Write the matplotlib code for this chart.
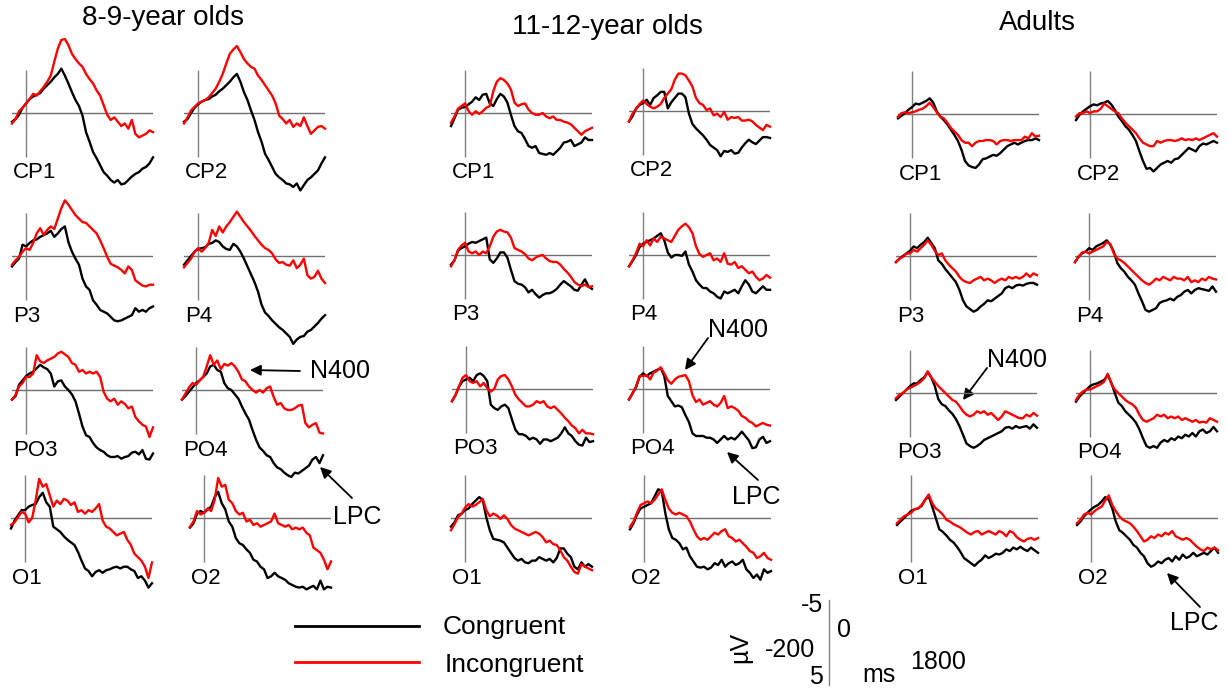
import numpy as np
import matplotlib
matplotlib.use('agg')
import matplotlib.pyplot as plt

plt.rcParams['font.family'] = ['Liberation Sans', 'DejaVu Sans']

# ERP data in microvolts, -200..1800 ms in 50 ms steps (negative plotted up)
# 8-9-year olds
g1_cp1_con = [1.0,0.7,0.2,-0.6,-1.1,-1.6,-1.9,-2.1,-2.3,-2.8,-3.2,-3.6,-4.1,-4.5,-5.1,-4.3,-3.4,-2.4,-1.5,-0.8,0.3,2.2,3.3,4.5,5.2,6.0,6.8,7.2,7.7,8.0,7.7,8.2,8.1,7.7,7.3,7.0,6.8,6.4,6.2,5.8,5.1]
g1_cp1_inc = [1.2,0.7,-0.2,-0.6,-1.1,-1.6,-2.2,-2.0,-2.5,-3.0,-3.6,-4.3,-5.9,-7.4,-8.4,-8.5,-7.8,-6.8,-6.2,-5.7,-5.3,-4.5,-3.9,-3.4,-2.6,-2.0,-0.9,0.2,0.8,0.5,1.0,1.5,1.2,1.8,0.8,2.4,2.8,2.6,2.4,2.0,2.2]
g1_cp2_con = [1.0,0.7,0.0,-0.6,-1.0,-1.3,-1.5,-1.6,-1.9,-2.1,-2.5,-2.8,-3.2,-3.6,-4.1,-4.5,-3.6,-2.4,-1.5,-0.3,0.8,2.2,3.3,4.7,5.4,6.2,7.0,7.4,7.7,8.1,8.2,8.5,8.1,8.9,8.3,7.7,7.4,7.0,6.6,5.8,5.1]
g1_cp2_inc = [1.2,0.5,-0.3,-0.7,-1.1,-1.3,-1.5,-1.8,-2.3,-2.8,-3.6,-4.5,-5.7,-6.8,-7.3,-7.7,-7.0,-6.2,-5.7,-5.3,-5.1,-4.3,-3.8,-3.2,-2.6,-2.0,-1.1,0.3,0.7,1.2,0.8,1.6,1.2,1.5,0.5,1.5,2.4,2.0,1.6,1.5,1.8]
g1_p3_con = [1.2,0.7,0.3,-1.3,-1.1,-1.5,-1.8,-1.9,-2.2,-2.4,-2.6,-2.9,-2.2,-2.6,-3.1,-3.4,-1.6,-0.5,0.3,1.0,2.6,3.5,3.9,5.1,5.6,6.2,6.4,6.6,7.0,7.4,7.5,7.4,7.2,7.0,6.8,6.0,6.4,6.2,6.4,6.0,5.8]
g1_p3_inc = [1.0,0.5,0.1,-0.5,-0.9,-0.7,-1.5,-2.6,-3.2,-2.4,-3.0,-3.4,-3.1,-4.3,-5.5,-6.4,-5.9,-5.3,-4.7,-4.3,-3.9,-3.8,-3.4,-3.0,-2.6,-1.8,-0.9,0.1,0.9,1.1,1.3,1.6,2.0,1.2,1.6,2.8,3.1,3.4,3.5,3.3,3.3]
g1_p4_con = [1.0,0.5,0.0,-0.5,-0.8,-0.9,-1.0,-1.4,-1.5,-1.8,-1.6,-1.1,-0.8,-0.7,-1.4,-1.1,-0.5,0.3,1.2,2.1,3.0,4.1,5.6,6.5,6.9,7.4,7.8,8.2,8.5,8.9,9.3,10.1,9.6,9.3,9.2,8.7,8.5,8.1,7.7,7.2,6.8]
g1_p4_inc = [1.3,0.8,0.3,-0.5,-0.9,-0.5,-0.9,-1.5,-3.0,-2.3,-3.4,-2.7,-3.4,-3.9,-4.5,-5.1,-4.5,-3.9,-3.4,-2.9,-2.3,-1.8,-1.3,-0.9,-0.7,-0.3,0.4,0.8,0.7,1.0,1.1,0.5,1.4,1.0,0.3,2.2,2.6,2.4,1.7,2.6,3.1]
g1_po3_con = [1.1,0.7,-0.6,-1.1,-1.6,-1.9,-2.1,-2.5,-2.9,-2.6,-2.4,-1.9,-0.4,-1.0,-1.1,-0.4,0.0,0.5,1.3,2.7,4.2,5.2,5.4,6.1,6.6,6.9,7.1,7.5,7.7,7.7,7.6,7.9,7.7,7.6,7.2,7.1,7.4,6.9,7.9,8.0,7.3]
g1_po3_inc = [1.1,0.6,-0.4,-0.8,-1.5,-1.5,-1.9,-4.0,-3.3,-3.1,-3.4,-3.6,-3.8,-4.2,-4.4,-4.1,-3.8,-3.1,-2.9,-2.1,-2.3,-1.9,-2.1,-1.9,-2.1,-1.5,0.2,1.0,1.3,1.0,1.7,1.3,1.6,2.1,1.9,3.1,3.6,4.0,4.2,5.4,4.3]
g1_po4_con = [1.1,0.7,0.2,-0.3,-0.8,-1.1,-1.5,-1.9,-2.7,-2.9,-2.3,-2.1,-0.8,-0.2,0.0,0.5,1.0,1.9,2.7,3.4,4.6,5.7,6.6,7.0,7.5,7.7,8.4,8.9,9.1,9.5,9.8,10.0,9.5,9.6,9.3,9.0,8.7,8.0,7.7,8.4,7.5]
g1_po4_inc = [1.1,0.4,-0.3,-0.8,-0.6,-1.1,-1.5,-2.7,-4.0,-2.9,-3.4,-2.4,-3.0,-2.8,-3.1,-2.7,-2.1,-1.2,-1.0,-0.4,0.0,0.3,0.0,0.3,-0.2,-0.4,0.8,1.7,1.5,2.1,2.3,2.3,2.1,1.8,1.7,3.8,4.3,4.0,3.8,4.9,5.0]
g1_o1_con = [1.2,0.3,-0.3,-0.9,-0.9,-1.3,-1.5,-1.6,-2.4,-2.9,-1.8,-1.3,1.0,1.3,1.6,2.1,2.5,2.8,3.1,3.9,4.9,5.8,6.1,6.7,6.2,6.0,6.3,6.0,5.9,5.7,5.6,5.8,5.6,5.6,5.9,6.1,6.9,6.7,7.2,8.0,7.5]
g1_o1_inc = [0.8,0.5,-0.1,-0.7,-0.5,0.5,0.0,-2.0,-4.5,-3.6,-3.9,-2.6,-1.3,-2.0,-1.6,-2.2,-2.0,-1.5,-1.8,-0.7,-0.9,-0.5,-0.9,-0.7,-1.1,-1.6,0.3,1.0,1.2,1.6,2.0,1.8,1.6,2.5,3.1,4.1,4.5,4.9,5.6,6.9,5.1]
g1_o2_con = [1.1,0.6,-0.5,-0.8,-0.6,-1.0,-1.3,-2.4,-3.0,-1.7,-1.0,0.4,1.0,2.3,2.9,3.1,3.6,4.0,4.8,5.0,5.6,5.9,6.9,6.7,6.3,6.7,6.9,7.1,7.5,7.7,7.9,8.0,7.9,8.2,8.0,7.8,8.2,7.2,8.2,7.9,8.0]
g1_o2_inc = [1.0,0.4,-0.8,-0.4,-0.6,-1.1,-0.8,-2.1,-4.6,-3.6,-3.8,-2.1,-1.7,-0.8,-0.4,-0.6,0.4,0.2,0.8,0.6,1.0,0.8,0.6,0.4,-0.5,0.6,0.8,1.0,0.8,1.3,1.1,1.3,1.1,1.7,2.0,3.4,3.7,4.0,4.8,5.9,5.0]

# 11-12-year olds
g2_cp1_con = [1.5,0.6,-0.4,-0.6,-0.7,-1.0,-1.3,-1.8,-1.5,-2.1,-2.2,-1.1,-0.8,-1.6,-2.2,-1.9,-1.2,0.2,1.5,2.1,2.3,3.0,3.8,4.0,3.8,4.6,4.7,4.8,4.6,4.8,4.4,4.0,3.4,3.3,3.1,3.8,3.6,3.4,2.8,3.1,3.1]
g2_cp1_inc = [1.1,0.4,-0.5,-0.8,-1.1,-0.2,0.2,-0.2,0.1,-0.2,-0.6,-0.8,-2.5,-3.6,-4.0,-3.8,-3.4,-2.7,-1.2,-0.8,-1.0,-1.1,-0.4,0.0,0.2,0.2,0.0,0.4,0.6,0.4,0.8,0.8,1.0,1.1,1.3,1.7,2.1,2.5,2.1,1.9,1.7]
g2_cp2_con = [1.2,0.6,-0.3,-0.7,-0.9,-1.3,-0.7,-1.5,-1.8,-2.2,-2.2,-0.3,-1.0,-1.5,-2.0,-2.0,-1.6,0.3,1.5,2.0,2.4,2.8,3.3,3.9,4.2,4.5,5.2,4.6,4.7,4.5,4.9,4.8,4.2,3.7,3.3,3.6,3.8,3.4,3.0,3.0,3.1]
g2_cp2_inc = [1.2,0.3,-0.2,-0.8,-1.2,-0.8,-0.5,-0.3,-0.5,-0.8,-1.5,-2.0,-2.5,-3.6,-4.3,-4.3,-4.1,-3.5,-2.8,-1.5,-0.9,-0.7,-0.1,-0.3,0.5,0.3,0.7,0.1,1.0,0.7,0.8,0.7,1.1,1.1,1.0,1.2,1.6,1.9,2.2,1.6,1.8]
g2_p3_con = [1.1,0.6,-0.5,-0.8,-1.0,-1.3,-1.5,-1.4,-1.6,-1.8,-2.0,0.5,0.9,0.4,-0.3,-0.3,0.3,1.7,3.0,3.3,3.4,3.7,4.3,4.0,4.5,4.9,4.6,4.4,4.4,4.2,3.9,3.4,3.0,3.3,3.6,4.0,4.1,3.4,2.8,3.6,3.9]
g2_p3_inc = [1.3,0.6,-0.6,-1.1,-1.4,-0.4,-0.2,-0.4,0.0,-0.4,-0.2,-1.0,-2.1,-2.7,-2.9,-2.7,-2.6,-2.0,-0.8,-0.6,-0.4,-0.1,0.4,0.6,0.3,0.1,0.0,0.4,0.7,0.8,0.8,1.1,1.6,2.0,2.5,3.1,3.4,3.6,3.4,3.7,3.6]
g2_p4_con = [1.3,0.7,0.0,-0.9,-1.3,-1.5,-1.7,-1.9,-2.2,-2.5,-1.7,-0.3,0.3,0.0,0.0,0.1,-0.4,1.1,1.9,2.9,3.4,3.8,3.8,4.2,4.4,4.8,5.0,4.2,4.4,4.2,4.0,4.4,3.6,2.9,3.4,4.2,4.4,4.0,3.6,4.0,4.0]
g2_p4_inc = [1.3,0.6,-0.2,-1.3,-1.0,-1.7,-1.1,-1.9,-1.5,-2.1,-1.9,-1.7,-1.5,-2.2,-2.9,-3.3,-3.6,-3.2,-2.5,-1.0,-0.1,0.2,0.0,-0.2,0.6,0.4,0.8,-0.2,1.0,1.1,0.8,1.5,1.3,1.7,2.1,1.9,2.5,2.9,2.7,2.3,2.6]
g2_po3_con = [1.4,0.7,-0.3,-0.9,-1.1,-1.3,-0.9,-1.6,-1.8,-1.5,-0.9,1.8,2.2,2.4,2.0,1.8,2.2,3.5,4.7,5.2,5.2,5.4,5.8,5.6,5.8,6.3,5.8,5.8,6.0,5.8,5.6,5.1,4.4,5.1,5.4,6.0,6.4,6.5,5.6,6.1,6.0]
g2_po3_inc = [1.4,0.7,-0.3,-1.3,-1.6,-0.9,-0.7,-0.9,-0.3,-0.7,-0.1,0.3,0.0,-1.1,-1.5,-1.6,-1.1,-0.3,0.7,1.2,1.6,2.0,2.0,1.8,1.4,1.6,1.4,2.0,2.2,2.0,2.4,2.8,3.3,3.7,4.2,4.5,5.1,4.7,5.1,5.1,5.2]
g2_po4_con = [1.2,0.5,-0.2,-1.4,-1.8,-1.5,-1.8,-2.0,-2.2,-2.4,-1.5,0.8,1.4,2.0,1.9,2.1,3.0,3.8,5.1,5.4,5.4,5.4,5.6,5.6,5.8,6.2,5.8,5.4,5.8,5.6,5.8,5.4,4.9,5.4,5.9,6.8,6.7,5.8,5.5,6.2,6.0]
g2_po4_inc = [1.2,0.5,-0.3,-1.5,-1.5,-1.6,-1.1,-1.9,-2.1,-2.5,-1.8,-1.0,-0.6,-1.1,-1.4,-1.5,-1.6,-0.9,0.7,1.5,1.2,1.8,1.6,1.4,1.8,2.0,1.6,0.8,2.2,2.0,2.2,2.5,3.1,3.3,3.7,3.9,4.3,4.1,3.9,4.1,4.2]
g2_o1_con = [1.0,0.5,-0.3,-0.5,-0.9,-1.1,-1.6,-2.0,-2.4,-2.1,-0.1,1.4,2.4,2.5,2.6,2.8,3.4,4.0,4.6,4.9,4.7,5.1,5.2,4.9,4.9,4.5,4.7,4.9,4.7,5.1,4.6,3.5,3.5,4.1,4.5,5.6,5.9,5.1,5.6,5.3,5.6]
g2_o1_inc = [1.4,0.7,-0.1,-0.5,-1.2,-1.6,-1.3,-1.5,-1.8,-2.2,-0.9,-0.2,-0.5,-0.3,0.1,-0.3,0.1,0.8,1.2,1.4,1.6,1.8,2.0,1.8,1.6,1.8,2.2,2.8,2.6,3.0,3.1,3.7,4.5,4.9,5.6,6.2,6.4,5.3,5.6,5.8,6.0]
g2_o2_con = [1.3,0.6,-0.4,-1.1,-1.3,-1.5,-1.7,-2.5,-3.3,-3.1,-0.6,1.3,2.3,2.5,2.9,3.6,3.4,4.4,5.0,5.6,5.7,5.6,5.9,5.7,5.2,5.4,4.8,5.6,5.2,5.0,5.4,5.2,4.8,5.9,6.3,6.9,6.5,7.1,5.9,6.3,6.1]
g2_o2_inc = [1.0,0.4,-0.6,-1.5,-1.7,-1.9,-1.7,-2.1,-2.7,-3.3,-2.1,-1.1,-0.6,-0.4,-0.6,-0.4,-0.2,0.4,1.3,2.1,2.5,2.3,2.5,2.1,1.7,1.9,1.5,1.3,2.1,2.3,2.7,2.5,2.9,3.3,3.8,4.0,4.6,4.4,4.0,4.6,4.8]

# Adults
g3_cp1_con = [0.5,0.2,-0.1,-0.5,-0.8,-1.2,-1.1,-1.3,-1.5,-1.8,-1.3,-0.3,0.3,0.7,1.2,1.8,2.4,3.1,4.1,5.4,5.9,6.1,6.2,5.8,5.2,5.1,4.9,4.7,4.8,4.5,4.1,3.7,3.5,3.3,3.5,3.3,3.1,3.0,3.0,2.8,3.0]
g3_cp1_inc = [0.3,-0.1,-0.2,-0.1,-0.2,-0.3,-0.5,-0.6,-0.9,-1.3,-0.8,-0.2,0.3,0.5,1.0,1.6,2.0,2.4,3.0,3.3,3.3,3.7,3.3,3.1,3.1,3.0,3.0,3.1,3.5,3.1,3.0,3.0,3.1,3.0,3.0,3.0,2.6,2.8,2.2,2.6,2.5]
g3_cp2_con = [0.7,0.1,-0.3,-0.6,-0.9,-1.1,-1.0,-1.2,-1.3,-1.5,-1.1,-0.5,0.3,0.8,1.4,1.8,2.4,3.1,4.3,5.4,6.3,6.2,6.6,6.2,5.8,5.6,5.4,5.6,5.2,5.1,4.7,4.3,3.9,4.1,4.3,3.7,3.4,3.5,3.3,3.1,3.3]
g3_cp2_inc = [0.3,-0.1,-0.1,-0.3,-0.1,-0.3,-0.3,-0.6,-1.2,-0.9,-0.6,-0.3,-0.1,0.5,1.0,1.4,1.8,2.2,2.8,3.3,3.5,3.7,3.7,3.1,3.3,3.1,3.0,3.0,3.1,3.0,2.8,3.0,2.9,3.0,2.8,3.0,2.8,2.6,2.4,2.2,2.6]
g3_p3_con = [0.7,0.3,0.0,-0.3,-0.6,-1.1,-0.9,-1.3,-1.6,-2.1,-1.5,-0.9,0.5,0.9,1.5,2.0,2.5,3.0,3.9,5.1,5.8,6.1,6.4,6.2,5.8,5.5,5.1,5.2,4.9,4.6,4.3,3.7,3.5,3.7,3.4,3.3,3.4,3.2,3.1,3.1,3.3]
g3_p3_inc = [0.7,0.3,0.1,-0.3,-0.3,-0.7,-0.5,-0.9,-1.3,-1.8,-1.3,-0.6,-0.1,-0.3,0.5,1.0,1.4,1.8,2.4,2.8,3.0,3.1,2.8,2.6,2.4,2.8,2.6,2.8,3.1,2.8,2.6,2.8,2.4,2.6,2.4,2.6,2.4,2.0,2.4,2.0,2.2]
g3_p4_con = [0.7,0.1,-0.3,-0.5,-0.9,-0.7,-1.1,-1.3,-1.5,-1.8,-1.3,-0.5,0.8,1.4,1.8,2.4,2.8,3.3,4.3,5.2,6.2,6.4,6.2,6.0,5.4,5.2,5.1,4.9,5.1,4.7,4.5,4.1,3.9,4.3,3.9,3.7,3.8,3.9,4.0,3.5,4.1]
g3_p4_inc = [0.7,0.1,-0.4,-0.5,-0.3,-0.5,-0.7,-0.9,-1.1,-1.6,-1.4,-0.3,0.3,0.5,0.8,1.2,1.6,2.0,2.4,2.8,3.1,3.3,3.0,2.6,2.8,2.4,2.6,2.8,2.4,2.6,2.6,2.8,2.4,3.0,2.8,3.0,2.6,2.8,2.4,2.6,2.7]
g3_po3_con = [0.8,0.4,0.0,-0.4,-0.8,-1.1,-1.1,-1.5,-1.8,-2.4,-1.8,-0.8,0.7,1.3,1.5,2.0,2.4,3.0,3.8,4.8,5.8,6.1,6.3,6.1,5.8,5.4,5.2,5.0,4.8,4.6,4.4,4.0,3.9,4.1,3.8,4.0,3.9,3.8,4.1,3.6,4.0]
g3_po3_inc = [0.6,0.2,0.0,-0.4,-0.6,-0.8,-1.0,-1.3,-1.7,-2.5,-1.8,-1.3,-0.8,-0.4,0.0,0.4,0.8,1.0,1.5,2.1,2.5,2.7,2.5,2.1,2.3,2.1,2.5,2.3,2.7,3.1,2.7,2.1,2.3,2.5,2.7,2.9,2.9,2.5,2.7,2.3,2.6]
g3_po4_con = [1.0,0.4,0.0,-0.4,-0.8,-1.0,-1.1,-1.3,-1.5,-2.1,-1.2,0.0,1.1,1.5,2.1,2.5,2.9,3.4,4.2,5.2,6.1,6.3,6.1,6.3,5.7,5.4,5.6,5.2,5.4,5.0,5.2,4.8,5.0,4.6,5.0,4.4,4.2,4.6,4.4,3.9,4.4]
g3_po4_inc = [0.8,0.2,-0.2,-0.4,-0.4,-0.6,-0.8,-1.0,-1.3,-2.2,-1.1,-0.4,0.0,0.4,0.8,1.1,1.3,1.7,2.5,3.1,3.3,3.1,2.9,2.5,2.7,2.5,2.9,2.7,2.9,2.7,3.1,2.9,3.1,3.3,3.1,3.4,3.3,3.4,2.9,3.1,3.3]
g3_o1_con = [0.8,0.4,0.0,-0.4,-0.8,-1.0,-1.1,-1.4,-2.1,-2.5,-1.3,0.0,1.3,1.6,2.0,2.5,2.8,3.3,3.9,4.6,4.9,5.2,5.5,5.1,4.8,4.3,4.6,4.4,4.1,4.2,4.0,3.6,3.8,3.4,3.6,3.3,3.6,3.8,3.4,3.7,4.0]
g3_o1_inc = [0.6,0.2,-0.2,-0.4,-0.6,-1.0,-1.1,-1.5,-2.1,-2.7,-1.7,-1.1,-0.8,-0.4,0.2,0.4,0.7,0.9,1.1,1.4,1.7,1.9,1.6,1.5,1.9,1.7,1.5,1.7,1.9,1.5,1.7,2.1,1.5,1.7,2.2,2.5,2.7,2.4,2.3,2.5,2.3]
g3_o2_con = [0.8,0.4,-0.2,-0.6,-1.0,-1.3,-1.5,-1.9,-2.4,-2.1,-1.1,0.4,1.4,1.7,2.1,2.5,3.1,3.4,4.0,4.4,5.2,5.6,5.4,5.0,5.2,4.8,4.6,5.0,4.4,4.8,4.2,4.6,4.4,4.0,4.4,4.2,4.0,4.2,3.8,3.4,4.0]
g3_o2_inc = [0.6,0.2,-0.4,-0.6,-0.4,-0.8,-1.1,-1.3,-2.0,-2.6,-1.5,-0.8,-0.2,0.2,0.4,0.6,1.0,1.5,2.1,2.7,2.5,2.1,2.3,1.9,2.1,1.7,1.9,1.5,2.1,2.3,2.5,2.3,2.5,2.9,3.3,3.6,3.8,3.4,3.6,3.4,3.7]

electrodes = ['CP1', 'CP2', 'P3', 'P4', 'PO3', 'PO4', 'O1', 'O2']
group_titles = ['8-9-year olds', '11-12-year olds', 'Adults']

congruent = [
    [g1_cp1_con, g1_cp2_con, g1_p3_con, g1_p4_con, g1_po3_con, g1_po4_con, g1_o1_con, g1_o2_con],
    [g2_cp1_con, g2_cp2_con, g2_p3_con, g2_p4_con, g2_po3_con, g2_po4_con, g2_o1_con, g2_o2_con],
    [g3_cp1_con, g3_cp2_con, g3_p3_con, g3_p4_con, g3_po3_con, g3_po4_con, g3_o1_con, g3_o2_con],
]
incongruent = [
    [g1_cp1_inc, g1_cp2_inc, g1_p3_inc, g1_p4_inc, g1_po3_inc, g1_po4_inc, g1_o1_inc, g1_o2_inc],
    [g2_cp1_inc, g2_cp2_inc, g2_p3_inc, g2_p4_inc, g2_po3_inc, g2_po4_inc, g2_o1_inc, g2_o2_inc],
    [g3_cp1_inc, g3_cp2_inc, g3_p3_inc, g3_p4_inc, g3_po3_inc, g3_po4_inc, g3_o1_inc, g3_o2_inc],
]

# layout (pixels): left edge (-200 ms) and zero line of each panel
panel_x = [[12, 184, 12, 184, 12, 182, 11, 190],
           [451, 629, 451, 629, 452, 629, 451, 630],
           [898, 1076, 896, 1075, 896, 1076, 897, 1077]]
panel_y = [[113, 113, 256, 256, 390, 390, 518, 518],
           [113, 111, 255, 255, 389, 389, 518, 518],
           [114, 114, 256, 256, 393, 393, 518, 518]]
title_pos = [(163, 18), (607, 27), (1037, 23)]

W, H = 1230, 690
PX_W = 141      # 2000 ms
PX_UV = 8.7     # pixels per microvolt
YR = 10

fig = plt.figure(figsize=(W / 100, H / 100), dpi=100)

# overlay in pixel coordinates for legend, scale bar, annotations
ov = fig.add_axes([0, 0, 1, 1])
ov.set_xlim(0, W)
ov.set_ylim(H, 0)
ov.axis('off')

for g in range(3):
    for k in range(8):
        x0, zy = panel_x[g][k], panel_y[g][k]
        ax = fig.add_axes([x0 / W, (H - zy - YR * PX_UV) / H, PX_W / W, 2 * YR * PX_UV / H])
        ax.set_xlim(-200, 1800)
        ax.set_ylim(YR, -YR)
        ax.axis('off')
        ax.axhline(0, color='#707070', lw=1.0)
        ax.vlines(0, -5, 5, color='#808080', lw=1.0)
        con = congruent[g][k]
        inc = incongruent[g][k]
        t = np.linspace(-200, 1800, len(con))
        ax.plot(t, con, color='black', lw=1.7, clip_on=False)
        t = np.linspace(-200, 1800, len(inc))
        ax.plot(t, inc, color='#ff0000', lw=1.7, clip_on=False)
        ax.text(-190, 60 / PX_UV, electrodes[k], fontsize=16, ha='left', va='center')
    fig.text(title_pos[g][0] / W, 1 - title_pos[g][1] / H, group_titles[g],
             fontsize=20, ha='center', va='center')

# legend
ov.plot([295, 419], [626, 626], color='black', lw=2)
ov.plot([295, 419], [662, 662], color='#ff0000', lw=2)
ov.text(443, 627, 'Congruent', fontsize=19, ha='left', va='center')
ov.text(445, 665, 'Incongruent', fontsize=19, ha='left', va='center')

# scale bar
ov.plot([829, 829], [600, 685], color='#808080', lw=1)
ov.text(823, 605, '-5', fontsize=18, ha='right', va='center')
ov.text(823, 677, '5', fontsize=18, ha='right', va='center')
ov.text(837, 630, '0', fontsize=18, ha='left', va='center')
ov.text(815, 650, '-200', fontsize=18, ha='right', va='center')
ov.text(740, 647, 'µV', fontsize=18, ha='center', va='center', rotation=90)
ov.text(879, 675, 'ms', fontsize=18, ha='center', va='center')
ov.text(910, 662, '1800', fontsize=18, ha='left', va='center')

# component annotations
arrow = dict(arrowstyle='-|>', color='black', lw=1.3, mutation_scale=16, shrinkA=0, shrinkB=0)
notes = [('N400', (310, 371), (300, 371), (250, 370)),
         ('LPC', (333, 517), (352, 498), (320, 467)),
         ('N400', (708, 330), (708, 338), (685, 370)),
         ('LPC', (732, 497), (758, 480), (727, 452)),
         ('N400', (987, 360), (987, 368), (963, 400)),
         ('LPC', (1170, 623), (1200, 607), (1167, 573))]
for label, tpos, tail, head in notes:
    ov.text(tpos[0], tpos[1], label, fontsize=18, ha='left', va='center')
    ov.annotate('', xy=head, xytext=tail, arrowprops=arrow)

plt.savefig('out.png', dpi=100)
